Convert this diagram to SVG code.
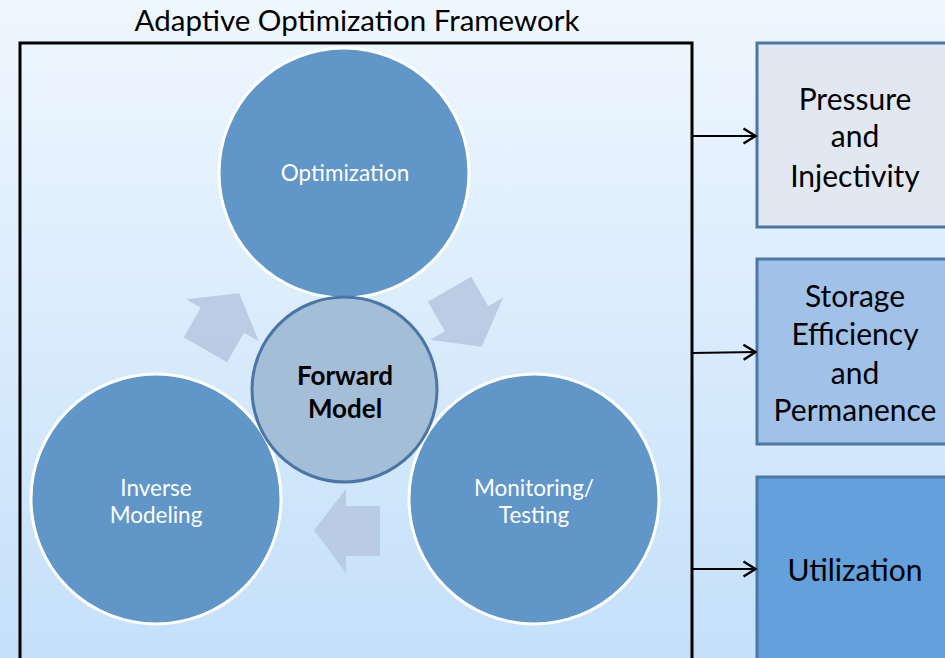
<svg xmlns="http://www.w3.org/2000/svg" width="945" height="658" viewBox="0 0 945 658">
  <defs>
    <linearGradient id="bg" x1="0" y1="0" x2="0" y2="1">
      <stop offset="0" stop-color="#eff7fe"/>
      <stop offset="1" stop-color="#c4e0fa"/>
    </linearGradient>
    <marker id="head" viewBox="0 0 16 18" refX="14.5" refY="9" markerWidth="16" markerHeight="18" markerUnits="userSpaceOnUse" orient="auto">
      <path d="M2,1.5 L14,9 L2,16.5" fill="none" stroke="#000" stroke-width="2.4"/>
    </marker>
    <!-- block arrow pointing left, below the forward model -->
    <polygon id="cycle-arrow" points="314,530 346,489 346,506 380,506 380,556 346,556 346,573"/>
  </defs>
  <style>
    text { font-family: Lato, "Liberation Sans", sans-serif; text-anchor: middle; }
    .title { font-size: 29.5px; fill: #000; }
    .phase { fill: #6096c8; stroke: #fff; stroke-width: 3; }
    .phase-label { font-size: 22.5px; fill: #fff; }
    .core { fill: #a4bed8; stroke: #4a76a6; stroke-width: 3; }
    .core-label { font-size: 26px; font-weight: bold; fill: #000; }
    .cycle { fill: #b7c9e1; opacity: 0.9; }
    .outcome { stroke: #4c76a3; stroke-width: 3; }
    .outcome-label { font-size: 30px; fill: #000; }
    .link { fill: none; stroke: #000; stroke-width: 2.2; marker-end: url(#head); }
  </style>

  <rect width="945" height="658" fill="url(#bg)"/>

  <g id="framework">
    <text class="title" x="357" y="31">Adaptive Optimization Framework</text>
    <rect x="20" y="43" width="672" height="640" fill="none" stroke="#000" stroke-width="3"/>
  </g>

  <g id="cycle-arrows">
    <use href="#cycle-arrow" class="cycle"/>
    <use href="#cycle-arrow" class="cycle" transform="rotate(120 345 390)"/>
    <use href="#cycle-arrow" class="cycle" transform="rotate(-120 345 390)"/>
  </g>

  <g id="optimization">
    <circle class="phase" cx="344" cy="173" r="125"/>
    <text class="phase-label" x="345" y="181">Optimization</text>
  </g>

  <g id="inverse-modeling">
    <circle class="phase" cx="156" cy="499" r="125"/>
    <text class="phase-label" x="156" y="496">Inverse</text>
    <text class="phase-label" x="156" y="523">Modeling</text>
  </g>

  <g id="monitoring-testing">
    <circle class="phase" cx="534" cy="499" r="125"/>
    <text class="phase-label" x="534" y="496">Monitoring/</text>
    <text class="phase-label" x="534" y="523">Testing</text>
  </g>

  <g id="forward-model">
    <circle class="core" cx="344.5" cy="389.5" r="92.5"/>
    <text class="core-label" x="345" y="385">Forward</text>
    <text class="core-label" x="345" y="418">Model</text>
  </g>

  <g id="pressure-injectivity">
    <rect class="outcome" x="757" y="43" width="200" height="184" fill="#e1e8f2"/>
    <text class="outcome-label" x="855" y="110">Pressure</text>
    <text class="outcome-label" x="855" y="147">and</text>
    <text class="outcome-label" x="855" y="187">Injectivity</text>
  </g>

  <g id="storage-efficiency">
    <rect class="outcome" x="757" y="259" width="200" height="185" fill="#a0c2e8"/>
    <text class="outcome-label" x="855" y="307">Storage</text>
    <text class="outcome-label" x="855" y="345">Efficiency</text>
    <text class="outcome-label" x="855" y="384">and</text>
    <text class="outcome-label" x="855" y="421">Permanence</text>
  </g>

  <g id="utilization">
    <rect class="outcome" x="757" y="477" width="200" height="200" fill="#63a0dc"/>
    <text class="outcome-label" x="855" y="581">Utilization</text>
  </g>

  <g id="connectors">
    <line class="link" x1="692" y1="136" x2="756" y2="136"/>
    <line class="link" x1="692" y1="353" x2="756" y2="352"/>
    <line class="link" x1="692" y1="569" x2="756" y2="569"/>
  </g>
</svg>
